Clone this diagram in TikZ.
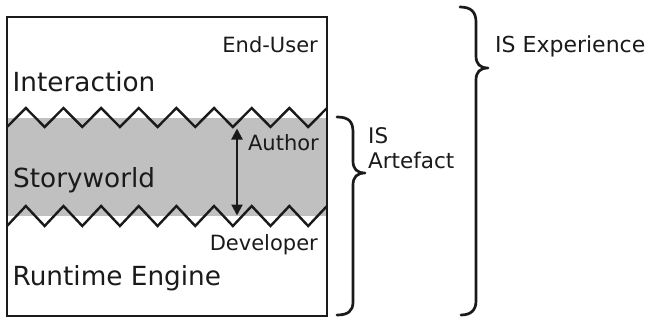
\documentclass[tikz,border=0pt]{standalone}
\usepackage{fontspec}
\setmainfont{DejaVu Sans}
\usetikzlibrary{arrows.meta}
\definecolor{bandgray}{HTML}{C0C0C0}
\definecolor{ink}{HTML}{1A1A1A}
\begin{document}
\begin{tikzpicture}[x=1pt,y=-1pt,
  bigtext/.style={inner sep=0pt,text=ink,font=\fontsize{26.3}{30}\selectfont},
  smalltext/.style={inner sep=0pt,text=ink,font=\fontsize{21}{25}\selectfont},
  sidetext/.style={inner sep=0pt,text=ink,font=\fontsize{21.5}{25}\selectfont,align=left},
  zigline/.style={draw=ink,line width=2.4pt,line join=miter},
  bracepath/.style={draw=ink,line width=2.7pt,line cap=round,line join=round},
  layerarrow/.style={draw=ink,line width=2.2pt,{Triangle[length=11pt,width=11pt]}-{Triangle[length=11pt,width=11pt]}}]
  \useasboundingbox (0,0) rectangle (651,321);

  % storyworld band
  \fill[bandgray] (7,118) rectangle (327,216);

  % zigzag borders of the band
  \draw[zigline] (7,127) foreach \i in {1,...,17} { -- ({7+\i*320/17},{mod(\i,2)==1 ? 108 : 127}) };
  \draw[zigline] (7,226) foreach \i in {1,...,17} { -- ({7+\i*320/17},{mod(\i,2)==1 ? 206 : 226}) };

  % outer frame
  \draw[draw=ink,line width=2.8pt] (7,17) rectangle (327,316);

  % layer labels
  \node[smalltext,anchor=base east] (enduser) at (318,53) {End-User};
  \node[bigtext,anchor=base west] (interaction) at (12.5,92) {Interaction};
  \node[smalltext,anchor=base east] (author) at (319,150) {Author};
  \node[bigtext,anchor=base west] (storyworld) at (13,187) {Storyworld};
  \node[smalltext,anchor=base east] (developer) at (318,250) {Developer};
  \node[bigtext,anchor=base west] (runtime) at (12.5,285) {Runtime Engine};

  % author arrow across the storyworld
  \coordinate (atop) at (237,128.5);
  \coordinate (abot) at (237,215.5);
  \draw[layerarrow] (atop) -- (abot);

  % brace for the artefact
  \coordinate (sbtop) at (337,117);
  \coordinate (sbtip) at (365,173);
  \coordinate (sbbot) at (337,315);
  \draw[bracepath] (sbtop) .. controls (349,117) and (353,122) .. (353,132)
    -- (353,161) .. controls (353,169) and (357,173) .. (sbtip)
    .. controls (357,173) and (353,177) .. (353,185)
    -- (353,302) .. controls (353,311) and (348,315) .. (sbbot);
  \node[sidetext,anchor=base west] (artefact) at (368,168) {IS\\Artefact};

  % brace for the experience
  \coordinate (bbtop) at (460,7);
  \coordinate (bbtip) at (488,68);
  \coordinate (bbbot) at (461,315);
  \draw[bracepath] (bbtop) .. controls (471,7) and (476,12) .. (476,22)
    -- (476,56) .. controls (476,64) and (480,68) .. (bbtip)
    .. controls (480,68) and (476,72) .. (476,80)
    -- (476,301) .. controls (476,310) and (471,315) .. (bbbot);
  \node[sidetext,anchor=base west,font=\fontsize{22}{25}\selectfont] (experience) at (495,53) {IS Experience};
\end{tikzpicture}
\end{document}
